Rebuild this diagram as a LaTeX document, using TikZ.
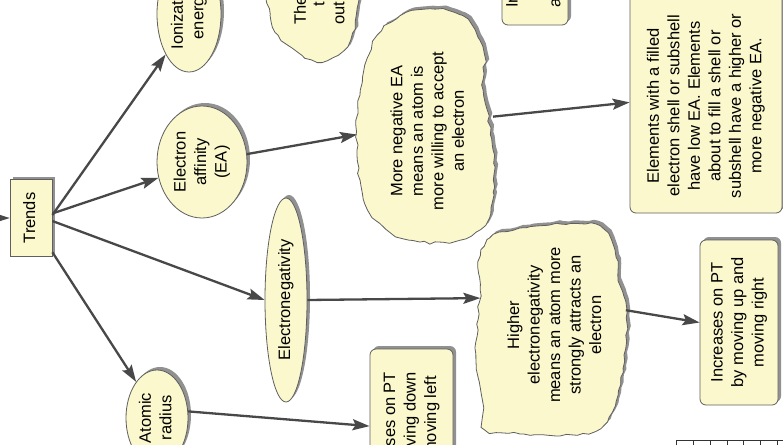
\documentclass[tikz,border=0pt]{standalone}
\usepackage{fontspec}
\setmainfont{Liberation Sans}
\usetikzlibrary{arrows.meta,shapes.geometric,decorations.pathmorphing,shadows}
\definecolor{fillc}{RGB}{250,248,204}
\definecolor{edgec}{RGB}{95,95,95}
\definecolor{arrc}{RGB}{72,72,72}
\definecolor{shadc}{RGB}{145,145,145}
\newcommand\rtxt[1]{\rotatebox{90}{\begin{tabular}{@{}c@{}}#1\end{tabular}}}
\newcommand\blob[3]{\pgfmathsetseed{#1}%
  \path[#2, decorate, decoration={random steps,segment length=6pt,amplitude=1.4pt}] plot[smooth cycle, tension=0.6] coordinates {#3};}
\begin{document}
\begin{tikzpicture}[x=1pt,y=-1pt,
  font=\fontsize{16.5}{20.5}\selectfont,
  every node/.style={inner sep=0pt},
  sh/.style={drop shadow={shadow xshift=3pt,shadow yshift=3pt,fill=shadc,opacity=1}},
  cnode/.style={ellipse,draw=edgec,line width=0.8pt,fill=fillc,sh},
  boxnode/.style={rectangle,rounded corners=6pt,draw=edgec,line width=0.8pt,fill=fillc,sh},
  trendbox/.style={rectangle,draw=edgec,line width=0.8pt,fill=fillc,sh},
  hiddenell/.style={ellipse,draw=none,fill=none},
  link/.style={draw=arrc,line width=2.3pt,-{Stealth[length=17pt,width=11pt,inset=3pt]}},
  frag/.style={anchor=south}
]
\useasboundingbox (0,0) rectangle (783,444);
\fill[white] (0,0) rectangle (783,444);
\clip (0,0) rectangle (783,444);

% clouds
\def\cloudThe{(268,-30) (270,15) (278,35) (292,48) (305,58) (322,62) (338,55) (350,40) (356,15) (356,-30)}
\def\cloudNeg{(430,9) (458,14) (475,30) (484,55) (482,85) (487,110) (493,150) (494,195) (485,225) (460,240) (420,242) (390,232) (368,210) (360,180) (357,150) (356,125) (360,95) (365,65) (378,35) (400,16)}
\def\cloudHig{(520,228) (560,224) (600,226) (615,250) (620,285) (627,312) (624,355) (618,395) (600,428) (560,436) (520,434) (486,430) (482,400) (476,360) (478,320) (480,290) (478,262) (490,238)}
\blob{11}{fill=shadc,xshift=3pt,yshift=3pt}{\cloudThe}
\blob{11}{fill=fillc,draw=edgec,line width=0.8pt}{\cloudThe}
\blob{12}{fill=shadc,xshift=3pt,yshift=3pt}{\cloudNeg}
\blob{12}{fill=fillc,draw=edgec,line width=0.8pt}{\cloudNeg}
\blob{13}{fill=shadc,xshift=3pt,yshift=3pt}{\cloudHig}
\blob{13}{fill=fillc,draw=edgec,line width=0.8pt}{\cloudHig}

\node[hiddenell,minimum width=136pt,minimum height=232pt] (neg) at (425,125) {};
\node[hiddenell,minimum width=150pt,minimum height=210pt] (hig) at (552,330) {};
\node (negtext) at (429,131) {\rtxt{More negative EA\\means an atom is\\more willing to accept\\an electron}};
\node (higtext) at (556,325) {\rtxt{Higher\\electronegativity\\means an atom more\\strongly attracts an\\electron}};
\node[frag] (the1) at (300,25) {\rotatebox{90}{The}};
\node[frag] (the2) at (319,7) {\rotatebox{90}{t}};
\node[frag] (the3) at (339,25) {\rotatebox{90}{out}};

% concepts
\node[trendbox,minimum width=42pt,minimum height=77pt] (trends) at (31,218) {\rtxt{Trends}};
\node[cnode,minimum width=64pt,minimum height=116pt] (ion) at (189,14) {\rtxt{Ionization\\energy}};
\node[cnode,minimum width=90pt,minimum height=112pt] (ea) at (202,162) {\rtxt{Electron\\affinity\\(EA)}};
\node[cnode,minimum width=42pt,minimum height=204pt] (en) at (286,300) {\rtxt{Electronegativity}};
\node[cnode,minimum width=62pt,minimum height=96pt] (ar) at (157,418) {\rtxt{Atomic\\radius}};

% boxes
\node[boxnode,minimum width=66pt,minimum height=130pt] (inbox) at (535,-40) {};
\node[frag] (in1) at (512,8) {\rotatebox{90}{In}};
\node[frag] (in3) at (556,8) {\rotatebox{90}{a}};
\node[boxnode,minimum width=152pt,minimum height=240pt] (elem) at (706,93) {};
\node (elemtext) at (706,106) {\rtxt{Elements with a filled\\electron shell or subshell\\have low EA. Elements\\about to fill a shell or\\subshell have a higher or\\more negative EA.}};
\node[boxnode,minimum width=78pt,minimum height=165pt] (incr) at (739,322.5) {\rtxt{Increases on PT\\by moving up and\\moving right}};
\node[boxnode,minimum width=83pt,minimum height=166pt] (decr) at (411.5,432) {\rtxt{Increases on PT\\by moving down\\and moving left}};

% table fragment
\foreach \i in {0,...,6} \draw[black!80,line width=0.7pt] (676.5+16.8*\i,440) -- (676.5+16.8*\i,450);
\draw[black!80,line width=0.7pt] (676.5,440) -- (790,440);

% connectors
\coordinate (inc) at (-40,218);
\draw[link] (inc) -- (trends.west);
\draw[link] (trends.8) -- (ion.240);
\draw[link] (trends.12) -- (ea.200);
\draw[link] (trends.-8) -- (en.west);
\draw[link] (trends.-58) -- (ar.120);
\draw[link] (ea.10) -- (neg.188);
\draw[link] (neg.7) -- (elem.187);
\draw[link] (en.east) -- (hig.156);
\draw[link] (hig.15) -- (incr.west);
\draw[link] (ar.12) -- (decr.172);
\end{tikzpicture}
\end{document}
